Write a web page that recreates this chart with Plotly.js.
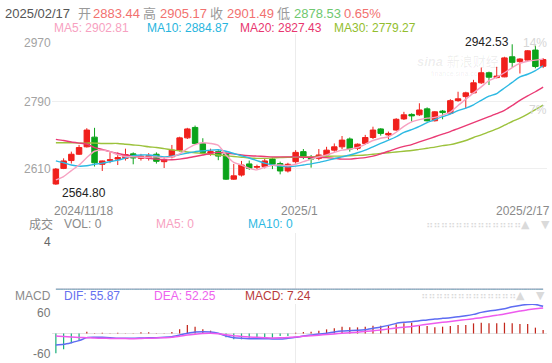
<!DOCTYPE html>
<html><head><meta charset="utf-8">
<script src="https://cdn.plot.ly/plotly-3.0.1.min.js"></script>
<style>html,body{margin:0;padding:0;background:#fff;}#chart{width:552px;height:363px;}</style>
</head><body><div id="chart"></div>
<script>
// ---------- data ----------
const lastDate = '2025/02/17';
const dateTickIdx  = [0, 31, 63];
const dateTickText = ['2024/11/18', '2025/1', '2025/2/17'];
const priceTicks = [2610, 2790, 2970];
const pctTicks   = [2970, 2790];
const pctText    = ['14%', '7%'];
const volTicks   = [4];
const macdTicks  = [60, -60];

const open = [2567,2609,2630,2647,2667,2693,2620,2630,2634,2636,2648,2636,2637,2647,2627,2640,2658,2691,2719,2676,2650,2654,2647,2580,2591,2621,2612,2614,2634,2622,2602,2627,2654,2638,2636,2645,2658,2667,2688,2663,2676,2692,2715,2699,2712,2742,2754,2753,2769,2737,2763,2757,2791,2802,2812,2839,2866,2853,2855,2909,2896,2900,2927,2883.44];
const high = [2610,2636,2654,2672,2717,2718,2630,2652,2652,2662,2652,2648,2650,2652,2640,2672,2694,2718,2724,2690,2662,2658,2652,2621,2629,2630,2619,2636,2638,2627,2624,2658,2661,2645,2661,2667,2676,2696,2692,2676,2699,2721,2717,2708,2744,2761,2757,2784,2773,2763,2766,2795,2815,2815,2847,2880,2869,2882,2909,2942.53,2905,2927,2939,2905.17];
const low  = [2564.8,2607,2622,2645,2665,2614,2602,2623,2618,2630,2620,2630,2630,2622,2610,2636,2654,2688,2674,2647,2643,2631,2578,2578,2587,2605,2607,2609,2607,2593,2598,2622,2634,2611,2631,2640,2654,2661,2654,2658,2672,2688,2697,2687,2710,2739,2735,2750,2735,2735,2741,2755,2788,2770,2809,2836,2833,2851,2854,2880,2864,2898,2878,2878.53];
const close= [2607,2629,2647,2665,2712,2624,2629,2632,2638,2646,2637,2642,2643,2628,2632,2658,2691,2715,2676,2652,2654,2642,2580,2589,2618,2609,2614,2629,2620,2602,2620,2652,2640,2634,2645,2658,2667,2685,2661,2674,2692,2712,2703,2703,2741,2753,2750,2766,2737,2761,2759,2791,2796,2812,2839,2866,2854,2857,2906,2894,2903,2925,2882.75,2901.49];

const ma5  = [2578,2587,2603,2618,2638,2655,2658,2654,2646,2641, 2640,2639,2639,2640,2637,2640,2648,2662,2673,2678, 2676,2671,2645,2625,2618,2609,2605,2612,2617,2618, 2616,2620,2627,2634,2640,2645,2652,2658,2661,2665, 2674,2684,2690,2694,2706,2722,2734,2740,2744,2746, 2752,2760,2778,2795,2812,2828,2845,2854,2866,2880, 2891,2897,2900,2902.81];
const ma10 = [2629,2624,2618,2615,2616,2620,2623,2627,2631,2637, 2643,2645,2645,2643,2640,2642,2646,2650,2654,2656, 2658,2659,2655,2649,2643,2637,2630,2623,2618,2615, 2613,2615,2618,2621,2625,2630,2635,2640,2645,2651, 2658,2667,2676,2685,2694,2706,2713,2722,2732,2740, 2748,2755,2764,2771,2780,2792,2803,2810,2825,2840, 2855,2862,2872,2884.87];
const ma20 = [2687,2684,2680,2677,2674,2665,2660,2654,2649,2645, 2642,2639,2636,2634,2632,2632,2634,2637,2641,2645, 2649,2652,2650,2648,2645,2643,2642,2641,2640,2640, 2640,2640,2639,2639,2639,2638,2636,2634,2634,2636, 2638,2642,2648,2655,2662,2668,2673,2680,2687,2694, 2701,2708,2716,2724,2732,2740,2748,2756,2765,2778, 2792,2804,2815,2827.43];
const ma30 = [2678,2678,2678,2677,2677,2677,2676,2676,2676,2674, 2672,2670,2667,2665,2662,2659,2656,2653,2651,2649, 2647,2645,2643,2641,2639,2637,2636,2636,2637,2638, 2639,2639,2640,2640,2641,2641,2642,2642,2643,2644, 2645,2647,2649,2651,2653,2655,2657,2660,2663,2666, 2670,2673,2678,2684,2692,2699,2707,2715,2725,2735, 2744,2755,2767,2779.27];

const volume = [0,0,0,0,0,0,0,0,0,0, 0,0,0,0,0,0,0,0,0,0, 0,0,0,0,0,0,0,0,0,0, 0,0,0,0,0,0,0,0,0,0, 0,0,0,0,0,0,0,0,0,0, 0,0,0,0,0,0,0,0,0,0, 0,0,0,0];
const volMa5  = [0,0,0,0,0,0,0,0,0,0, 0,0,0,0,0,0,0,0,0,0, 0,0,0,0,0,0,0,0,0,0, 0,0,0,0,0,0,0,0,0,0, 0,0,0,0,0,0,0,0,0,0, 0,0,0,0,0,0,0,0,0,0, 0,0,0,0];
const volMa10 = [0,0,0,0,0,0,0,0,0,0, 0,0,0,0,0,0,0,0,0,0, 0,0,0,0,0,0,0,0,0,0, 0,0,0,0,0,0,0,0,0,0, 0,0,0,0,0,0,0,0,0,0, 0,0,0,0,0,0,0,0,0,0, 0,0,0,0];

const dif  = [-23.6,-22.2,-18.8,-14.7,-8.5,-7.9,-7.9,-8.5,-9.9,-9.9, -9.9,-9.2,-8.5,-8.5,-7.9,-6.5,-3.1,0.3,3.1,3.8, 3.1,0.3,-5.1,-8.5,-9.9,-10.6,-10.6,-10.6,-11.3,-11.5, -9.9,-7.9,-5.1,-3.1,-1,0.3,3.1,5.1,5.8,6.5, 7.9,10.6,13.3,16.7,20.8,22.9,24.2,26.3,27.7,29.7, 31.1,32.4,34.5,36.5,39.3,43.4,46.1,48.2,50.9,55, 57.7,59.8,59.8,55.87];
const dea  = [-5.1,-6,-7.3,-8.2,-8.6,-9.4,-9.7,-10.1,-10.3,-10.5, -10.6,-10.2,-9.8,-9.2,-8.6,-7.8,-5.5,-3,-1.3,0, 0.3,-0.5,-2.5,-4.5,-6,-7.2,-7.9,-8.5,-9,-8.8, -8.3,-7.2,-5.8,-4.6,-3.4,-2.2,-0.8,0.3,1.5,2.8, 4.2,5.5,7.4,9.5,11.4,13,14.5,16.7,18.8,21, 23,24.7,26.5,28.5,30.5,32.5,35,37.5,40,43, 46,49,51,52.25];
const macd = [-40.6,-32.4,-20.1,-13.3,3.8,0.8,1.7,0.6,1.7,0.5, 0.4,2.4,2.4,0.6,0.5,3,8.5,17.4,14,8.5, 5.8,0.8,-7.9,-12,-12,-10.6,-10,-10,-9,-5.1, -5.1,1.7,3,3.8,5.8,8.5,10.6,14,12.6,12.6, 14,16,16,16,18.8,20.8,22.2,17.4,15.4,12.6, 14,15.4,17.4,17.4,20.8,22.2,20.8,20.8,22.2,20.8, 19.5,19.5,12,7.24];

// ---------- styling ----------
const W = 552, H = 363;
const FONT = 'Arial, "Liberation Sans", "Noto Sans CJK SC", sans-serif';
const UP = '#F0201C', DOWN = '#0BA31A';
const C_MA5 = '#F7A1C1', C_MA10 = '#2DB9E3', C_MA20 = '#EA3A74', C_MA30 = '#9CC23C';
const C_DIF = '#5E6CF2', C_DEA = '#EE5BEE';
const n = close.length;
const xs = close.map((_, i) => i);
const last = n - 1;

function maLine(y, color, xa, ya, w) {
  return {type: 'scatter', mode: 'lines', x: xs, y: y, xaxis: xa, yaxis: ya,
    line: {color: color, width: w || 1.4, shape: 'spline', smoothing: 0.6},
    hoverinfo: 'skip', showlegend: false};
}

const traces = [
  {type: 'candlestick', x: xs, open: open, high: high, low: low, close: close,
   xaxis: 'x', yaxis: 'y',
   increasing: {line: {color: UP, width: 1}, fillcolor: UP},
   decreasing: {line: {color: DOWN, width: 1}, fillcolor: DOWN},
   whiskerwidth: 0, hoverinfo: 'skip', showlegend: false},
  maLine(ma30, C_MA30, 'x', 'y'),
  maLine(ma20, C_MA20, 'x', 'y'),
  maLine(ma10, C_MA10, 'x', 'y'),
  maLine(ma5, C_MA5, 'x', 'y'),
  {type: 'bar', x: xs, y: volume, xaxis: 'x2', yaxis: 'y2', width: 0.7,
   marker: {color: close.map((c, i) => c >= open[i] ? UP : DOWN)}, hoverinfo: 'skip', showlegend: false},
  maLine(volMa5, C_MA5, 'x2', 'y2', 1),
  maLine(volMa10, '#5aaabb', 'x2', 'y2', 1),
  {type: 'bar', x: xs, y: macd, xaxis: 'x3', yaxis: 'y3', width: 0.16,
   marker: {color: macd.map(v => v >= 0 ? '#C3261B' : '#1FB07C')}, hoverinfo: 'skip', showlegend: false},
  maLine(dif, C_DIF, 'x3', 'y3', 1.5),
  maLine(dea, C_DEA, 'x3', 'y3', 1.5)
];

const xDomain = [52 / W, 547 / W];
function xAxis(anchor, extra) {
  return Object.assign({domain: xDomain, anchor: anchor, range: [-0.5, n - 0.5],
    tickmode: 'array', tickvals: [dateTickIdx[1]], showticklabels: false, ticks: '',
    showgrid: true, gridcolor: '#ececec', gridwidth: 1, zeroline: false, showline: false, fixedrange: true}, extra || {});
}
function yAxis(anchor, dom, range, tickvals, extra) {
  return Object.assign({domain: [1 - dom[1] / H, 1 - dom[0] / H], anchor: anchor, range: range,
    tickmode: 'array', tickvals: tickvals, showticklabels: false, ticks: '',
    showgrid: true, gridcolor: '#efefef', gridwidth: 1, zeroline: false, showline: false, fixedrange: true}, extra || {});
}

// ---------- text ----------
const ann = [];
function txt(text, xpx, ypx, color, size, xanchor, extra) {
  ann.push(Object.assign({xref: 'paper', yref: 'paper', x: xpx / W, y: 1 - ypx / H, text: text,
    showarrow: false, xanchor: xanchor || 'left', yanchor: 'middle',
    font: {family: FONT, size: size || 12, color: color}}, extra || {}));
}
const RED_T = '#F2716F', GRN_T = '#6FC86F', GREY_T = '#9a9a9a';
const pct = (close[last] / close[last - 1] - 1) * 100;
// header line 1
txt(lastDate, 3, 13.5, '#555', 13);
txt('开', 76, 13.5, GREY_T, 13);
txt(open[last].toFixed(2), 91, 13.5, RED_T, 13);
txt('高', 141, 13.5, GREY_T, 13);
txt(high[last].toFixed(2), 158, 13.5, RED_T, 13);
txt('收', 208, 13.5, GREY_T, 13);
txt(close[last].toFixed(2), 225, 13.5, RED_T, 13);
txt('低', 275, 13.5, GREY_T, 13);
txt(low[last].toFixed(2), 292, 13.5, GRN_T, 13);
txt(pct.toFixed(2) + '%', 342, 13.5, RED_T, 13);
// header line 2
txt('MA5: ' + ma5[last].toFixed(2), 52, 28.5, C_MA5, 12);
txt('MA10: ' + ma10[last].toFixed(2), 145, 28.5, '#27B5DE', 12);
txt('MA20: ' + ma20[last].toFixed(2), 238, 28.5, '#E8366F', 12);
txt('MA30: ' + ma30[last].toFixed(2), 332, 28.5, '#93BE2E', 12);

// price axis labels
priceTicks.forEach((t, i) => {
  const top = i === priceTicks.length - 1;
  ann.push({xref: 'paper', yref: 'y', x: 53 / W, y: t, text: String(t), showarrow: false,
    xanchor: 'right', yanchor: top ? 'top' : 'middle', yshift: top ? 0 : -1,
    font: {family: FONT, size: 12, color: '#a3a3a3'}});
});
pctTicks.forEach((t, i) => {
  ann.push({xref: 'paper', yref: 'y', x: 549 / W, y: t, text: pctText[i], showarrow: false,
    xanchor: 'right', yanchor: 'top', font: {family: FONT, size: 12, color: '#d6d6d6'}});
});
// date labels
const dAnch = ['left', 'center', 'right'];
const dShift = [-4, 4, 9];
dateTickIdx.forEach((d, i) => {
  ann.push({xref: 'x', yref: 'paper', x: d, y: 1 - 211 / H, text: dateTickText[i], showarrow: false,
    xanchor: dAnch[i], yanchor: 'middle', xshift: dShift[i], font: {family: FONT, size: 12, color: '#8a8a8a'}});
});
// high / low marks
let iHi = 0, iLo = 0;
high.forEach((v, i) => { if (v > high[iHi]) iHi = i; });
low.forEach((v, i) => { if (v < low[iLo]) iLo = i; });
ann.push({xref: 'x', yref: 'y', x: iHi, y: high[iHi], text: high[iHi].toFixed(2), showarrow: false,
  xanchor: 'right', yanchor: 'middle', xshift: -1, yshift: 2, font: {family: FONT, size: 12, color: '#222'}});
ann.push({xref: 'x', yref: 'y', x: iLo, y: low[iLo], text: low[iLo].toFixed(2), showarrow: false,
  xanchor: 'left', yanchor: 'middle', xshift: 4, yshift: -8, font: {family: FONT, size: 12, color: '#222'}});

// volume header
txt('成交', 27, 224, '#8a8a8a', 12);
txt('VOL: ' + volume[last], 62, 224, '#8a8a8a', 12);
txt('MA5: ' + volMa5[last], 154, 224, C_MA5, 12);
txt('MA10: ' + volMa10[last], 246, 224, C_MA10, 12);
volTicks.forEach(t => ann.push({xref: 'paper', yref: 'y2', x: 53 / W, y: t, text: String(t), showarrow: false,
  xanchor: 'right', yanchor: 'top', font: {family: FONT, size: 12, color: '#666'}}));

// macd header
txt('MACD', 53, 295.5, '#8a8a8a', 12, 'right');
txt('DIF: ' + dif[last].toFixed(2), 62, 295.5, '#6670F0', 12);
txt('DEA: ' + dea[last].toFixed(2), 152, 295.5, '#EE62EE', 12);
txt('MACD: ' + macd[last].toFixed(2), 243, 295.5, '#B83A3A', 12);
macdTicks.forEach(t => ann.push({xref: 'paper', yref: 'y3', x: 53 / W, y: t, text: String(t), showarrow: false,
  xanchor: 'right', yanchor: t > 0 ? 'top' : 'bottom', font: {family: FONT, size: 12, color: '#777'}}));

// panel controls
const dots = '⠶⠶⠶⠶⠶⠶⠶⠶⠶⠶⠶⠶⠶';
const ctl = {family: '"DejaVu Sans", sans-serif', size: 10, color: '#dadada'};
[[224, 473, 525, 545], [295, 468, 520, 540]].forEach(r => {
  ann.push({xref: 'paper', yref: 'paper', x: r[1] / W, y: 1 - r[0] / H, text: dots, showarrow: false, xanchor: 'center', yanchor: 'middle', font: ctl});
  ann.push({xref: 'paper', yref: 'paper', x: r[2] / W, y: 1 - r[0] / H, text: '▲', showarrow: false, xanchor: 'center', yanchor: 'middle', font: Object.assign({}, ctl, {size: 11})});
  ann.push({xref: 'paper', yref: 'paper', x: r[3] / W, y: 1 - r[0] / H, text: '▼', showarrow: false, xanchor: 'center', yanchor: 'middle', font: Object.assign({}, ctl, {size: 11})});
});
// watermark
txt('<b><i>sina</i></b> 新浪财经', 458, 61, 'rgba(0,0,0,0.08)', 13, 'center');
txt('finance.sina.com.cn', 462, 73, 'rgba(0,0,0,0.07)', 7, 'center');

const layout = {
  width: W, height: H, margin: {l: 0, r: 0, t: 0, b: 0},
  paper_bgcolor: '#fff', plot_bgcolor: '#fff', showlegend: false,
  boxgap: 0.15, boxgroupgap: 0.17, hovermode: false,
  xaxis: xAxis('y', {rangeslider: {visible: false}}),
  yaxis: yAxis('x', [34, 200], [2524, 2970.2], priceTicks),
  xaxis2: xAxis('y2'),
  yaxis2: yAxis('x2', [233, 290], [-0.06, 4], volTicks),
  xaxis3: xAxis('y3'),
  yaxis3: yAxis('x3', [304, 363], [-60.6, 60.6], [macdTicks[0]], {zeroline: true, zerolinecolor: '#e4e4e4', zerolinewidth: 1}),
  annotations: ann
};

Plotly.newPlot('chart', traces, layout, {staticPlot: true, displayModeBar: false});
</script>
</body></html>
